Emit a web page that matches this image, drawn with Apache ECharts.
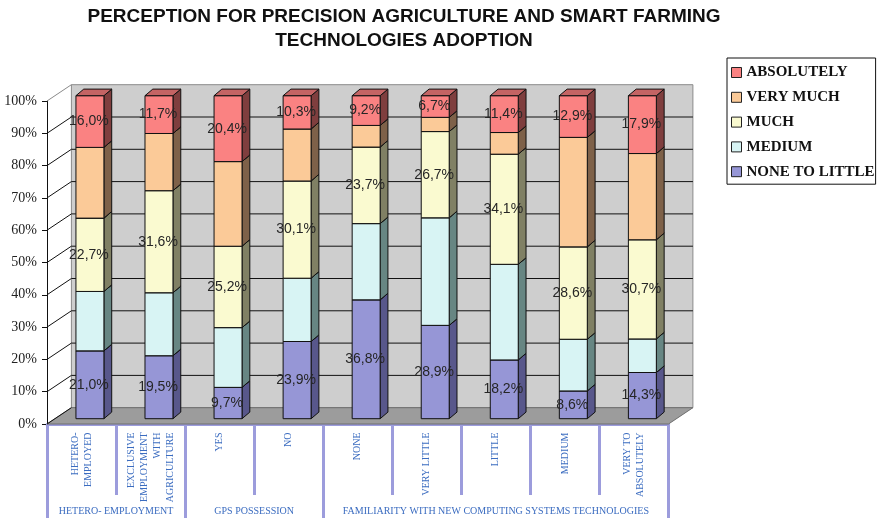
<!DOCTYPE html>
<html>
<head>
<meta charset="utf-8">
<script src="https://cdn.jsdelivr.net/npm/echarts@6/dist/echarts.min.js"></script>
<style>
  html, body { margin: 0; padding: 0; background: #ffffff; }
  #chart { width: 878px; height: 518px; }
</style>
</head>
<body>
<div id="chart"></div>
<script>
// ---- data ----
const categories = [
  'HETERO-\nEMPLOYED',
  'EXCLUSIVE\nEMPLOYMENT\nWITH\nAGRICULTURE',
  'YES',
  'NO',
  'NONE',
  'VERY LITTLE',
  'LITTLE',
  'MEDIUM',
  'VERY TO\nABSOLUTELY'
];
const groupNames = ['HETERO- EMPLOYMENT', 'GPS POSSESSION', 'FAMILIARITY WITH NEW COMPUTING SYSTEMS TECHNOLOGIES'];
const groupSizes = [2, 2, 5];

const noneToLittle = [21.0, 19.5, 9.7, 23.9, 36.8, 28.9, 18.2, 8.6, 14.3];
const medium       = [18.4, 19.5, 18.5, 19.6, 23.6, 33.3, 29.6, 16.0, 10.4];
const much         = [22.7, 31.6, 25.2, 30.1, 23.7, 26.7, 34.1, 28.6, 30.7];
const veryMuch     = [21.9, 17.7, 26.2, 16.1, 6.7, 4.4, 6.7, 33.9, 26.7];
const absolutely   = [16.0, 11.7, 20.4, 10.3, 9.2, 6.7, 11.4, 12.9, 17.9];

const percentTicks = [0, 10, 20, 30, 40, 50, 60, 70, 80, 90, 100];

// ---- styling ----
const LAVENDER = '#9c9cdc';
const LABEL_BLUE = '#3b6cc0';
const WALL_DEPTH = [24.4, -16.3];   // front plane -> back wall
const BAR_SHIFT = [8.4, -5.3];      // front plane -> bar front face
const BAR_DEPTH = [7.8, -6.6];      // bar front face -> bar back face

const stackDefs = [
  { name: 'NONE TO LITTLE', values: noneToLittle, front: '#9696d6', side: '#58578b', top: '#7676b2', labeled: true },
  { name: 'MEDIUM',         values: medium,       front: '#d8f4f4', side: '#678683', top: '#a9c5c4', labeled: false },
  { name: 'MUCH',           values: much,         front: '#fafad0', side: '#808064', top: '#c8c8a6', labeled: true },
  { name: 'VERY MUCH',      values: veryMuch,     front: '#fbca98', side: '#7e6149', top: '#c8a07a', labeled: false },
  { name: 'ABSOLUTELY',     values: absolutely,   front: '#fa8282', side: '#7f3e3e', top: '#c46464', labeled: true }
];

function fmtPct(v) {
  return v.toFixed(1).replace('.', ',') + '%';
}

// group boundaries and centres on the 0..9 value axis
const groupEdges = [0];
const groupCentres = [];
groupSizes.forEach(function (n) {
  const start = groupEdges[groupEdges.length - 1];
  groupCentres.push(start + n / 2);
  groupEdges.push(start + n);
});

// back wall, floor and gridlines of the 3D box
function renderWalls(params, api) {
  const dx = WALL_DEPTH[0], dy = WALL_DEPTH[1];
  const l0 = api.coord([0, 0]), r0 = api.coord([9, 0]);
  const l100 = api.coord([0, 100]);
  const children = [];
  children.push({
    type: 'rect',
    shape: { x: l100[0] + dx, y: l100[1] + dy, width: r0[0] - l0[0], height: l0[1] - l100[1] },
    style: { fill: '#cecece', stroke: '#8a8a8a', lineWidth: 1 }
  });
  children.push({
    type: 'polygon',
    shape: { points: [[l0[0], l0[1]], [r0[0], r0[1]], [r0[0] + dx, r0[1] + dy], [l0[0] + dx, l0[1] + dy]] },
    style: { fill: '#9c9c9c', stroke: '#6e6e6e', lineWidth: 1 }
  });
  percentTicks.forEach(function (v) {
    const p = api.coord([0, v]), q = api.coord([9, v]);
    const edge = (v === 100);
    children.push({
      type: 'line',
      shape: { x1: p[0], y1: p[1], x2: p[0] + dx, y2: p[1] + dy },
      style: { stroke: edge ? '#8a8a8a' : '#111111', lineWidth: 1 }
    });
    if (v > 0 && v < 100) {
      children.push({
        type: 'line',
        shape: { x1: p[0] + dx, y1: p[1] + dy, x2: q[0] + dx, y2: q[1] + dy },
        style: { stroke: '#111111', lineWidth: 1 }
      });
    }
  });
  return { type: 'group', children: children };
}

// one stacked 3D block per category
function makeBlockRenderer(def) {
  return function (params, api) {
    const cat = api.value(0), lo = api.value(1), hi = api.value(2), val = api.value(3);
    const b = api.coord([cat, lo]), t = api.coord([cat, hi]);
    const band = api.size([1, 0])[0];
    const half = band * 0.2025;
    const cx = b[0] + BAR_SHIFT[0];
    const yb = b[1] + BAR_SHIFT[1], yt = t[1] + BAR_SHIFT[1];
    const x0 = cx - half, x1 = cx + half;
    const sx = BAR_DEPTH[0], sy = BAR_DEPTH[1];
    const edge = { stroke: '#111111', lineWidth: 1 };
    const children = [
      {
        type: 'polygon',
        shape: { points: [[x1, yt], [x1 + sx, yt + sy], [x1 + sx, yb + sy], [x1, yb]] },
        style: Object.assign({ fill: def.side }, edge)
      },
      {
        type: 'rect',
        shape: { x: x0, y: yt, width: x1 - x0, height: yb - yt },
        style: Object.assign({ fill: def.front }, edge)
      },
      {
        type: 'polygon',
        shape: { points: [[x0, yt], [x1, yt], [x1 + sx, yt + sy], [x0 + sx, yt + sy]] },
        style: Object.assign({ fill: def.top }, edge)
      }
    ];
    if (def.labeled) {
      children.push({
        type: 'text',
        z2: 100,
        style: {
          x: cx - 1, y: (yt + yb) / 2,
          text: fmtPct(val),
          fill: '#262626',
          font: '14px "Liberation Sans", Arial, sans-serif',
          align: 'center', verticalAlign: 'middle',
          textAlign: 'center', textVerticalAlign: 'middle'
        }
      });
    }
    return { type: 'group', children: children };
  };
}

const cumulative = categories.map(function () { return 0; });
const blockSeries = stackDefs.map(function (def) {
  const data = def.values.map(function (v, i) {
    const lo = cumulative[i];
    cumulative[i] = lo + v;
    return [i, lo, lo + v, v];
  });
  return {
    name: def.name,
    type: 'custom',
    xAxisIndex: 0,
    yAxisIndex: 0,
    clip: false,
    silent: true,
    itemStyle: { color: def.front },
    encode: { x: 0, y: [1, 2] },
    renderItem: makeBlockRenderer(def),
    data: data
  };
});

const chart = echarts.init(document.getElementById('chart'), null, { renderer: 'canvas' });

chart.setOption({
  animation: false,
  backgroundColor: '#ffffff',
  title: {
    text: 'PERCEPTION FOR PRECISION AGRICULTURE AND SMART FARMING\nTECHNOLOGIES ADOPTION',
    left: 404,
    top: 5,
    textAlign: 'center',
    padding: 0,
    textStyle: {
      fontFamily: '"Liberation Sans", Arial, sans-serif',
      fontWeight: 'bold',
      fontSize: 19,
      lineHeight: 24,
      color: '#111111'
    }
  },
  legend: {
    orient: 'vertical',
    left: 727,
    top: 58,
    data: ['ABSOLUTELY', 'VERY MUCH', 'MUCH', 'MEDIUM', 'NONE TO LITTLE'],
    icon: 'rect',
    itemWidth: 10,
    itemHeight: 10,
    itemGap: 9.8,
    padding: [7, 1, 5, 4],
    borderColor: '#111111',
    borderWidth: 1,
    selectedMode: false,
    itemStyle: { borderColor: '#222222', borderWidth: 1 },
    textStyle: {
      fontFamily: '"Liberation Serif", "Times New Roman", serif',
      fontWeight: 'bold',
      fontSize: 15,
      lineHeight: 15,
      color: '#111111'
    }
  },
  grid: { left: 47, right: 209.5, top: 101, bottom: 94, containLabel: false },
  xAxis: [
    {
      type: 'category',
      data: categories,
      position: 'bottom',
      offset: 1.5,
      boundaryGap: true,
      axisLine: { show: true, lineStyle: { color: LAVENDER, width: 3 } },
      axisTick: { show: true, interval: 0, length: 71, lineStyle: { color: LAVENDER, width: 3 } },
      axisLabel: {
        interval: 0,
        rotate: 90,
        margin: 7,
        fontFamily: '"Liberation Serif", "Times New Roman", serif',
        fontSize: 10,
        lineHeight: 13,
        color: LABEL_BLUE
      },
      splitLine: { show: false }
    },
    {
      type: 'value',
      min: 0,
      max: 9,
      position: 'bottom',
      offset: 1.5,
      axisLine: { show: false },
      axisTick: {
        show: true,
        customValues: groupEdges,
        length: 95,
        lineStyle: { color: LAVENDER, width: 3 }
      },
      axisLabel: {
        show: true,
        customValues: groupCentres,
        margin: 81,
        fontFamily: '"Liberation Serif", "Times New Roman", serif',
        fontSize: 10,
        color: LABEL_BLUE,
        formatter: function (v) {
          const k = groupCentres.indexOf(v);
          return k >= 0 ? groupNames[k] : '';
        }
      },
      splitLine: { show: false }
    }
  ],
  yAxis: {
    type: 'value',
    min: 0,
    max: 100,
    interval: 10,
    axisLine: { show: true, lineStyle: { color: '#111111', width: 1 } },
    axisTick: { show: true, length: 5, lineStyle: { color: '#111111' } },
    axisLabel: {
      margin: 10,
      formatter: '{value}%',
      fontFamily: '"Liberation Serif", "Times New Roman", serif',
      fontSize: 14,
      color: '#222222'
    },
    splitLine: { show: false }
  },
  series: [
    {
      name: 'walls',
      type: 'custom',
      xAxisIndex: 1,
      yAxisIndex: 0,
      clip: false,
      silent: true,
      z: 1,
      renderItem: renderWalls,
      data: [[0, 0]]
    }
  ].concat(blockSeries)
});
</script>
</body>
</html>
